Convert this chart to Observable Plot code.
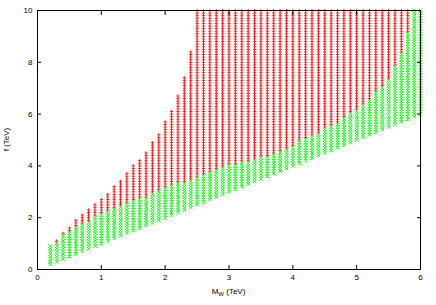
<!DOCTYPE html>
<html><head><meta charset="utf-8">
<script src="https://cdn.jsdelivr.net/npm/d3@7"></script>
<script src="https://cdn.jsdelivr.net/npm/@observablehq/plot@0.6"></script>
<style>body{margin:0;background:#fff;}</style>
</head><body><div id="chart"></div>
<script>
// Column positions M_W (TeV)
const mW = [0.2,0.3,0.4,0.5,0.6,0.7,0.8,0.9,1.0,1.1,1.2,1.3,1.4,1.5,1.6,1.7,1.8,1.9,2.0,2.1,2.2,2.3,2.4,2.5,2.6,2.7,2.8,2.9,3.0,3.1,3.2,3.3,3.4,3.5,3.6,3.7,3.8,3.9,4.0,4.1,4.2,4.3,4.4,4.5,4.6,4.7,4.8,4.9,5.0,5.1,5.2,5.3,5.4,5.5,5.6,5.7,5.8,5.9,6.0];
// lowest f of the green (x) points in each column
const fMin = [0.2,0.3,0.4,0.5,0.6,0.7,0.8,0.9,1.0,1.1,1.2,1.3,1.4,1.5,1.6,1.7,1.8,1.9,2.0,2.1,2.2,2.3,2.4,2.5,2.6,2.7,2.8,2.9,3.0,3.1,3.2,3.3,3.4,3.5,3.6,3.7,3.8,3.9,4.0,4.1,4.2,4.3,4.4,4.5,4.6,4.7,4.8,4.9,5.0,5.1,5.2,5.3,5.4,5.5,5.6,5.7,5.8,5.9,6.0];
// highest f of the green (x) points in each column
const fGreenMax = [0.9,1.0,1.3,1.4,1.6,1.7,1.8,2.0,2.1,2.2,2.3,2.4,2.5,2.6,2.7,2.7,2.9,3.0,3.1,3.2,3.3,3.3,3.4,3.5,3.6,3.7,3.8,3.9,4.0,4.0,4.1,4.1,4.2,4.3,4.3,4.4,4.5,4.6,4.7,4.9,5.0,5.1,5.2,5.4,5.5,5.6,5.8,6.0,6.1,6.3,6.5,6.8,7.0,7.3,7.8,8.3,9.1,10,10];
// highest f of the red (+) points in each column (null = no red points)
const fRedMax = [null,1.1,1.4,1.6,1.9,2.1,2.3,2.5,2.7,2.9,3.2,3.4,3.7,4.0,4.2,4.5,4.9,5.2,5.7,6.1,6.7,7.4,8.4,10,10,10,10,10,10,10,10,10,10,10,10,10,10,10,10,10,10,10,10,10,10,10,10,10,10,10,10,10,10,10,10,10,10,null,null];
const xTicks = [0,1,2,3,4,5,6];
const yTicks = [0,2,4,6,8,10];

const green = [], red = [];
mW.forEach((m, i) => {
  const lo = Math.round(fMin[i]*10), gh = Math.round(fGreenMax[i]*10);
  for (let k = lo; k <= gh; k++) green.push({m, f: k/10});
  if (fRedMax[i] != null) {
    const rh = Math.round(fRedMax[i]*10);
    for (let k = gh + 1; k <= rh; k++) red.push({m, f: k/10});
  }
});

const chart = Plot.plot({
  width: 436, height: 305,
  marginLeft: 37, marginRight: 16, marginTop: 10, marginBottom: 36,
  x: {domain: [0, 6]},
  y: {domain: [0, 10]},
  style: {fontFamily: "'Liberation Sans', Arial, sans-serif", fontSize: "8px", color: "#000", background: "#fff"},
  marks: [
    Plot.dot(red, {x: "m", y: "f", symbol: "plus", r: 1.15, stroke: "#ff0000", strokeWidth: 0.8}),
    Plot.dot(green, {x: "m", y: "f", symbol: "times", r: 1.8, stroke: "#00ff00", strokeWidth: 0.9}),
    Plot.frame({stroke: "#000", strokeWidth: 1}),
    Plot.axisX(xTicks, {anchor: "bottom", tickSize: 0, tickPadding: 5, label: null}),
    Plot.axisX(xTicks, {anchor: "bottom", tickSize: -4, tickFormat: () => "", label: null}),
    Plot.axisX(xTicks, {anchor: "top", tickSize: -4, tickFormat: () => "", label: null}),
    Plot.axisY(yTicks, {anchor: "left", tickSize: 0, tickPadding: 5, label: null}),
    Plot.axisY(yTicks, {anchor: "left", tickSize: -4, tickFormat: () => "", label: null}),
    Plot.axisY(yTicks, {anchor: "right", tickSize: -4, tickFormat: () => "", label: null})
  ]
});
document.getElementById("chart").appendChild(chart);

const svg = d3.select(chart);
const xl = svg.append("text")
  .attr("x", 228.5).attr("y", 294)
  .attr("text-anchor", "middle")
  .attr("font-family", "'Liberation Sans', Arial, sans-serif")
  .attr("font-size", 8).attr("fill", "#000");
xl.append("tspan").text("M");
xl.append("tspan").attr("font-size", 6).attr("dy", 2).text("W");
xl.append("tspan").attr("dy", -2).text(" (TeV)");

svg.append("text")
  .attr("transform", "translate(9,139.5) rotate(-90)")
  .attr("text-anchor", "middle")
  .attr("font-family", "'Liberation Sans', Arial, sans-serif")
  .attr("font-size", 8).attr("fill", "#000")
  .text("f (TeV)");
</script>
</body></html>
